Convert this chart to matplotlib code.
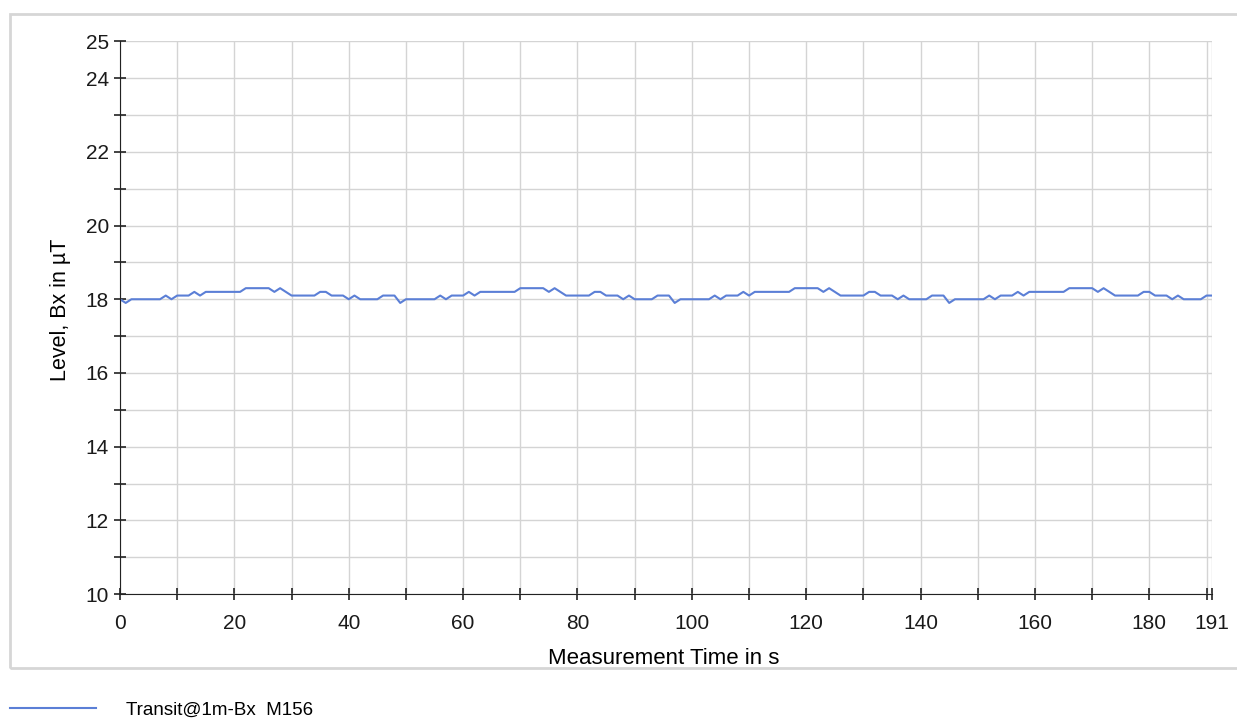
import matplotlib
matplotlib.use("Agg")
import matplotlib.pyplot as plt
from matplotlib.patches import Rectangle

plt.rcParams['font.family'] = ['Liberation Sans', 'DejaVu Sans']

time_s = [0, 1, 2, 7, 8, 9, 10, 12, 13, 14, 15, 21, 22, 26, 27, 28, 30, 34, 35, 36,
          37, 39, 40, 41, 42, 45, 46, 48, 49, 50, 55, 56, 57, 58, 60, 61, 62, 63, 69, 70,
          74, 75, 76, 78, 82, 83, 84, 85, 87, 88, 89, 90, 93, 94, 96, 97, 98, 103, 104, 105,
          106, 108, 109, 110, 111, 117, 118, 122, 123, 124, 126, 130, 131, 132, 133, 135, 136, 137, 138, 141,
          142, 144, 145, 146, 151, 152, 153, 154, 156, 157, 158, 159, 165, 166, 170, 171, 172, 174, 178, 179,
          180, 181, 183, 184, 185, 186, 189, 190, 191]
level_bx = [18.0, 17.9, 18.0, 18.0, 18.1, 18.0, 18.1, 18.1, 18.2, 18.1, 18.2, 18.2, 18.3, 18.3, 18.2, 18.3, 18.1, 18.1, 18.2, 18.2,
            18.1, 18.1, 18.0, 18.1, 18.0, 18.0, 18.1, 18.1, 17.9, 18.0, 18.0, 18.1, 18.0, 18.1, 18.1, 18.2, 18.1, 18.2, 18.2, 18.3,
            18.3, 18.2, 18.3, 18.1, 18.1, 18.2, 18.2, 18.1, 18.1, 18.0, 18.1, 18.0, 18.0, 18.1, 18.1, 17.9, 18.0, 18.0, 18.1, 18.0,
            18.1, 18.1, 18.2, 18.1, 18.2, 18.2, 18.3, 18.3, 18.2, 18.3, 18.1, 18.1, 18.2, 18.2, 18.1, 18.1, 18.0, 18.1, 18.0, 18.0,
            18.1, 18.1, 17.9, 18.0, 18.0, 18.1, 18.0, 18.1, 18.1, 18.2, 18.1, 18.2, 18.2, 18.3, 18.3, 18.2, 18.3, 18.1, 18.1, 18.2,
            18.2, 18.1, 18.1, 18.0, 18.1, 18.0, 18.0, 18.1, 18.1]

x_major = [0, 20, 40, 60, 80, 100, 120, 140, 160, 180, 191]
x_minor = [10, 30, 50, 70, 90, 110, 130, 150, 170, 190]
y_major = [10, 12, 14, 16, 18, 20, 22, 24, 25]
y_minor = [11, 13, 15, 17, 19, 21, 23]

fig = plt.figure(figsize=(12.37, 7.22), dpi=100)
ax = fig.add_axes([0.097, 0.177, 0.883, 0.766])

ax.plot(time_s, level_bx, color='#5b7fd6', linewidth=1.5, label='Transit@1m-Bx  M156')

ax.set_xlim(0, 191)
ax.set_ylim(10, 25)
ax.set_xticks(x_major)
ax.set_xticks(x_minor, minor=True)
ax.set_yticks(y_major)
ax.set_yticks(y_minor, minor=True)
ax.grid(True, which='both', color='#d4d4d4', linewidth=1)
ax.set_axisbelow(True)

for s in ['top', 'right']:
    ax.spines[s].set_visible(False)
ax.spines['left'].set_color('#222222')
ax.spines['bottom'].set_color('#222222')
ax.tick_params(which='both', direction='inout', length=9, width=1.2, colors='#222222',
               labelsize=15, labelcolor='#1a1a1a')
ax.tick_params(axis='x', which='major', pad=10)

ax.set_xlabel('Measurement Time in s', fontsize=16)
ax.set_ylabel('Level, Bx in µT', fontsize=15.5)
ax.xaxis.set_label_coords(0.498, -0.097)
ax.yaxis.set_label_coords(-0.045, 0.515)

# outer frame (open on the right, runs off the image)
fig.patches.append(Rectangle((10 / 1237, 1 - 668 / 722), 1240 / 1237, 654 / 722,
                             transform=fig.transFigure, fill=False,
                             edgecolor='#d6d6d6', linewidth=2))

fig.legend(loc='center left', bbox_to_anchor=(10 / 1237, 1 - 710 / 722), frameon=False,
           fontsize=13.5, handlelength=4.6, handletextpad=1.6,
           borderaxespad=0, borderpad=0)

fig.savefig('out.png', dpi=100)
